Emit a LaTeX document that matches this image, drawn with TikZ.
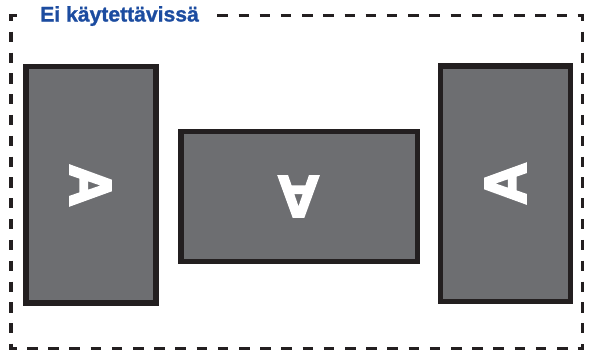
\documentclass[tikz,border=0pt]{standalone}
\usepackage{fontspec}
\setmainfont{Liberation Sans}[BoldFeatures={FakeBold=1.2}]
\newfontfamily\heavyletter{Liberation Sans Bold}[FakeBold=4]
\definecolor{panelgrey}{HTML}{6D6E71}
\definecolor{frameblack}{HTML}{231F20}
\definecolor{titleblue}{HTML}{1C4CA0}
\tikzset{
  panel/.style={draw=frameblack,fill=panelgrey,line width=4pt},
  letter/.style={text=white,font=\heavyletter\fontsize{44}{44}\selectfont,inner sep=0pt},
  zoneh/.style={draw=frameblack,line width=2.3pt,dash pattern=on 7.875pt off 8.025pt},
  zonev/.style={draw=frameblack,line width=2.3pt,dash pattern=on 7.65pt off 7.965pt},
  zonecorner/.style={draw=frameblack,line width=2.3pt,miter limit=10},
  title/.style={text=titleblue,font=\bfseries\fontsize{15.85}{18}\selectfont,anchor=base west,inner sep=0pt}
}
\begin{document}
\begin{tikzpicture}[x=0.75pt,y=-0.75pt]
\useasboundingbox (0,0) rectangle (590,350);
% dashed zone: sides
\draw[zoneh] (217.3,15.3) -- (567.5,15.3);
\draw[zoneh] (27,348.3) -- (567.5,348.3);
\draw[zonev] (11,31.7) -- (11,333.8);
\draw[zonev] (582.7,31.7) -- (582.7,333.8);
% dashed zone: corners
\draw[zonecorner] (11,20.5) -- (11,15.3) -- (16.5,15.3);
\draw[zonecorner] (577.5,15.3) -- (582.7,15.3) -- (582.7,20.5);
\draw[zonecorner] (11,343.5) -- (11,348.3) -- (16.5,348.3);
\draw[zonecorner] (577.5,348.3) -- (582.7,348.3) -- (582.7,343.5);
\node[title] (t) at (40,21.5) {Ei käytettävissä};
\draw[panel] (26,66.5) rectangle (156,303);
\node[letter,rotate=-90] (a) at (90.5,185.5) {A};
\draw[panel] (181,131.5) rectangle (417.5,261.5);
\node[letter,rotate=180] (b) at (298.5,196.5) {A};
\draw[panel] (440.5,66) rectangle (570.5,301.5);
\node[letter,rotate=90] (c) at (505.5,183.5) {A};
\end{tikzpicture}
\end{document}
